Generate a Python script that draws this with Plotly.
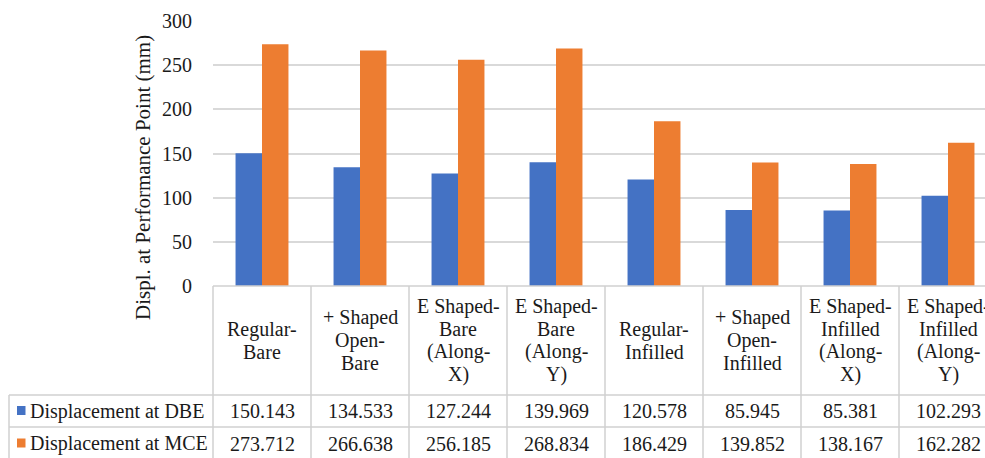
import plotly.graph_objects as go

categories = ["Regular-Bare", "+ Shaped Open-Bare", "E Shaped-Bare (Along-X)", "E Shaped-Bare (Along-Y)",
              "Regular-Infilled", "+ Shaped Open-Infilled", "E Shaped-Infilled (Along-X)", "E Shaped-Infilled (Along-Y)"]
header_labels = ["Regular-<br>Bare", "+ Shaped<br>Open-<br>Bare", "E Shaped-<br>Bare<br>(Along-<br>X)",
                 "E Shaped-<br>Bare<br>(Along-<br>Y)", "Regular-<br>Infilled", "+ Shaped<br>Open-<br>Infilled",
                 "E Shaped-<br>Infilled<br>(Along-<br>X)", "E Shaped-<br>Infilled<br>(Along-<br>Y)"]
series_names = ["Displacement at DBE", "Displacement at MCE"]
dbe = [150.143, 134.533, 127.244, 139.969, 120.578, 85.945, 85.381, 102.293]
mce = [273.712, 266.638, 256.185, 268.834, 186.429, 139.852, 138.167, 162.282]
y_ticks = [0, 50, 100, 150, 200, 250, 300]
y_title = "Displ. at Performance Point (mm)"

colors = ["#4472C4", "#ED7D31"]
FONT = "Liberation Serif, Times New Roman, DejaVu Serif, serif"
TXT = "#1a1a1a"
GRID = "#d9d9d9"
BORDER = "#d0d0d0"

W, H = 985, 458
L, R, T, B = 213, 0, 21, 172
PW, PH = W - L - R, H - T - B
x_range = [-0.5, -0.5 + PW / 98.0]

def px(p):  # pixel x -> paper
    return (p - L) / PW

def py(p):  # pixel y -> paper
    return (H - B - p) / PH

def cx(c):  # category coordinate -> paper
    return (c - x_range[0]) / (x_range[1] - x_range[0])

idx = list(range(len(categories)))
fig = go.Figure()
for name, vals, col in zip(series_names, [dbe, mce], colors):
    fig.add_trace(go.Bar(x=idx, y=vals, name=name, marker=dict(color=col, line=dict(width=0))))

shapes = []
ann = []
# table lines
top, r1, r2, bot = 286, 395, 427, 458
shapes.append(dict(type="line", xref="paper", yref="paper", x0=0, x1=1, y0=py(top), y1=py(top),
                   line=dict(color=BORDER, width=1.5)))
for yy in [r1, r2]:
    shapes.append(dict(type="line", xref="paper", yref="paper", x0=px(9), x1=1, y0=py(yy), y1=py(yy),
                       line=dict(color=BORDER, width=1.5)))
shapes.append(dict(type="line", xref="paper", yref="paper", x0=px(9), x1=px(9), y0=py(r1), y1=py(bot),
                   line=dict(color=BORDER, width=1.5)))
for i in range(len(categories) + 1):
    xc = cx(i - 0.5)
    if xc <= 1.0:
        shapes.append(dict(type="line", xref="paper", yref="paper", x0=xc, x1=xc, y0=py(top), y1=py(bot),
                           line=dict(color=BORDER, width=1.5)))

# headers (one annotation per line for Excel-like line spacing)
LS = 22.7
hc = (top + r1) / 2
for i, lab in enumerate(header_labels):
    lines = lab.split("<br>")
    n = len(lines)
    for k, t in enumerate(lines):
        yc = hc + (k - (n - 1) / 2) * LS
        ann.append(dict(xref="paper", yref="paper", x=cx(i), y=py(yc), text=t, showarrow=False,
                        xanchor="center", yanchor="middle", align="center",
                        font=dict(family=FONT, size=20, color=TXT)))
# rows
row_centers = [(r1 + r2) / 2, 443.5]
for ri, (name, vals, col) in enumerate(zip(series_names, [dbe, mce], colors)):
    yc = row_centers[ri]
    shapes.append(dict(type="rect", xref="paper", yref="paper", x0=px(17), x1=px(25.5),
                       y0=py(yc - 5), y1=py(yc + 4), fillcolor=col, line=dict(width=0)))
    ann.append(dict(xref="paper", yref="paper", x=px(28), y=py(yc), text=name, showarrow=False,
                    xanchor="left", yanchor="middle", font=dict(family=FONT, size=20, color=TXT)))
    for i, v in enumerate(vals):
        ann.append(dict(xref="paper", yref="paper", x=cx(i), y=py(yc), text=f"{v:.3f}", showarrow=False,
                        xanchor="center", yanchor="middle", font=dict(family=FONT, size=20, color=TXT)))

# y title
ann.append(dict(xref="paper", yref="paper", x=px(143), y=py(178), text=y_title, textangle=-90,
                showarrow=False, xanchor="center", yanchor="middle",
                font=dict(family=FONT, size=21, color=TXT)))

fig.update_layout(
    width=W, height=H, margin=dict(l=L, r=R, t=T, b=B, pad=0),
    paper_bgcolor="white", plot_bgcolor="white",
    font=dict(family=FONT, size=20, color=TXT),
    barmode="group", bargap=0.46, bargroupgap=0,
    showlegend=False,
    shapes=shapes, annotations=ann,
    xaxis=dict(range=x_range, showticklabels=False, showgrid=False, zeroline=False, showline=False,
               fixedrange=True),
    yaxis=dict(range=[0, 300], tickvals=y_ticks, ticktext=[str(t) for t in y_ticks],
               showgrid=True, gridcolor=GRID, gridwidth=1.5, zeroline=False, showline=False,
               ticks="", ticklabelstandoff=20,
               tickfont=dict(family=FONT, size=20, color=TXT)),
)
fig.write_html("out.html", config={"displayModeBar": False},
               post_script="document.body.style.margin='0';document.body.style.overflow='hidden';")
